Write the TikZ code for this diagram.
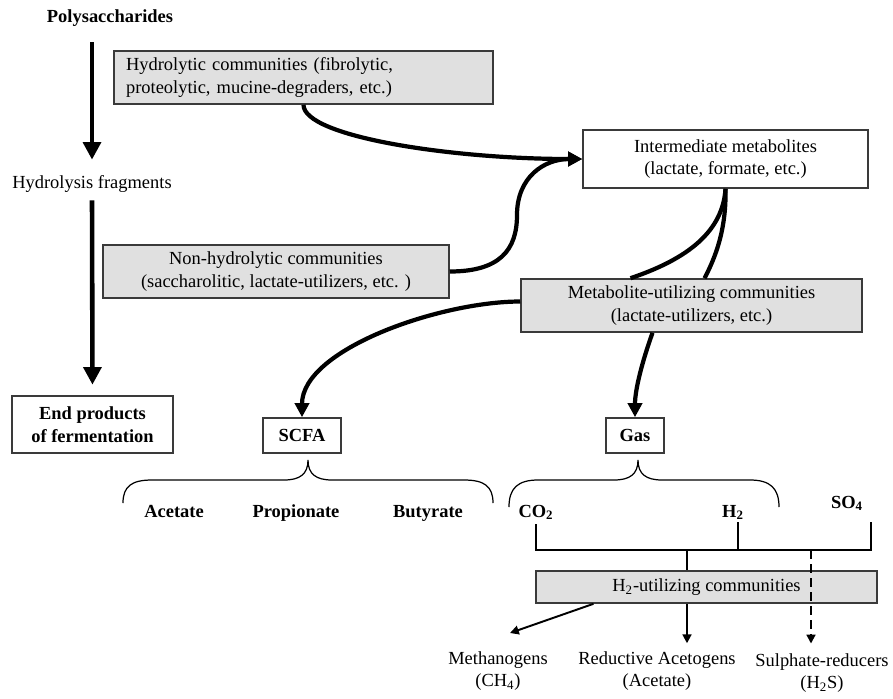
\documentclass[tikz,border=0pt]{standalone}
\usepackage{fontspec}
\setmainfont{Liberation Serif}
\usetikzlibrary{arrows.meta,calc}
\definecolor{fermgray}{HTML}{E0E0E0}
\definecolor{fermedge}{HTML}{3A3A3A}
\newcommand{\fermfont}{\fontsize{10.5}{13}\selectfont}

\begin{document}
\begin{tikzpicture}[x=0.02cm, y=-0.02cm, font=\fermfont,
  commbox/.style={draw=fermedge, line width=0.9pt, fill=fermgray, inner sep=0pt, align=center},
  outbox/.style={draw=fermedge, line width=0.9pt, fill=white, inner sep=0pt, align=center},
  boldlbl/.style={font=\fermfont\bfseries, align=center},
  outlbl/.style={align=center},
  bigflow/.style={line width=2.6pt, -{Triangle[length=10pt,width=10pt]}},
  flow/.style={line width=2.4pt, -{Triangle[length=8pt,width=8pt]}},
  link/.style={line width=2.4pt},
  bus/.style={line width=1.4pt},
  smallflow/.style={line width=1.1pt, -{Triangle[length=5pt,width=5pt]}},
  dashflow/.style={line width=1.1pt, dash pattern=on 5pt off 3pt, -{Triangle[length=5pt,width=5pt]}},
  brace/.style={line width=0.7pt}]
  \useasboundingbox (0,0) rectangle (893,698);
  % left column
  \node[boldlbl] (poly) at (110,18) {Polysaccharides};
  \node (hfrag) at (92,184) {Hydrolysis fragments};
  \node[outbox, boldlbl, minimum width=3.22cm, minimum height=1.14cm] (endp) at (92.5,424.5) {End products\\of fermentation};
  \draw[bigflow, shorten <=5.5pt, shorten >=5.5pt] (poly.south -| hfrag.north) -- (hfrag.north);
  \draw[bigflow, shorten <=1pt, shorten >=6pt] (hfrag.south) -- (endp.north);
  % communities and metabolites
  \node[commbox, align=left, text width=7.1cm, inner xsep=0.24cm, minimum height=1.06cm] (hydro) at (303.5,77.5) {Hydrolytic communities (fibrolytic,\\proteolytic, mucine-degraders, etc.)};
  \node[commbox, minimum width=6.92cm, minimum height=1.06cm] (nonhydro) at (276,271.5) {Non-hydrolytic communities\\(saccharolitic, lactate-utilizers, etc. )};
  \node[outbox, minimum width=5.7cm, minimum height=1.16cm] (inter) at (725.5,159) {Intermediate metabolites\\(lactate, formate, etc.)};
  \node[commbox, minimum width=6.82cm, minimum height=1.06cm] (metab) at (691.5,305.5) {Metabolite-utilizing communities\\(lactate-utilizers, etc.)};
  \node[outbox, boldlbl, minimum width=1.56cm, minimum height=0.7cm] (scfa) at (302,435.5) {SCFA};
  \node[outbox, boldlbl, minimum width=1.16cm, minimum height=0.7cm] (gas) at (635,435.5) {Gas};
  \draw[flow] (hydro.south) .. controls +(0,32) and +(-130,0) .. (inter.west);
  \draw[flow] (nonhydro.east) .. controls +(50,0) and +(0,35) .. (517,215) .. controls +(0,-38) and +(-38,0) .. (inter.west);
  \draw[link] (inter.south) .. controls +(-3,47) and +(50,-17) .. ($(metab.north)+(-61,0)$);
  \draw[link] (inter.south) .. controls +(1,42) and +(10,-19) .. ($(metab.north)+(13,0)$);
  \draw[flow] ($(metab.west)+(0,-4)$) .. controls +(-80,0) and +(0,-68) .. (scfa.north);
  \draw[flow] ($(metab.south)+(-39,0)$) .. controls +(-10,28) and +(0,-28) .. (gas.north);
  % braces
  \draw[brace] (123,503) .. controls (123,486) and (132,480) .. (152,480) -- (284,480) .. controls (300,480) and (308,474) .. (308,460) .. controls (308,474) and (316,480) .. (332,480) -- (464,480) .. controls (484,480) and (493,486) .. (493,503);
  \draw[brace] (509,507) .. controls (509,488) and (518,480) .. (538,480) -- (614,480) .. controls (630,480) and (638,474) .. (638,460) .. controls (638,474) and (646,480) .. (662,480) -- (750,480) .. controls (770,480) and (779,488) .. (779,507);
  \node[boldlbl, anchor=base] (acet) at (174,517) {Acetate};
  \node[boldlbl, anchor=base] (prop) at (296,517) {Propionate};
  \node[boldlbl, anchor=base] (buty) at (428,517) {Butyrate};
  \node[boldlbl, anchor=base] (co2) at (536,517) {CO\textsubscript{2}};
  \node[boldlbl, anchor=base] (h2) at (733,517) {H\textsubscript{2}};
  \node[boldlbl, anchor=base] (so4) at (847,508) {SO\textsubscript{4}};
  % gas bus
  \coordinate (busL) at (536,550);
  \coordinate (busR) at (871,550);
  \coordinate (so4bar) at (871,522);
  \coordinate (co2bar) at ($(co2.south)+(0,-2)$);
  \coordinate (h2bar) at ($(h2.south)+(5,-4)$);
  \coordinate (busA) at (687,550);
  \coordinate (busS) at (811,550);
  \draw[bus] (co2bar) -- (busL) -- (busR) -- (so4bar);
  \draw[bus] (h2bar) -- (h2bar |- busL);
  \node[commbox, minimum width=6.82cm, minimum height=0.64cm] (h2box) at (706.5,587) {H\textsubscript{2}-utilizing communities};
  \draw[bus] (busA) -- (busA |- h2box.north);
  % H2 users
  \node[outlbl] (meth) at (498,671) {Methanogens\\(CH\textsubscript{4})};
  \node[outlbl] (redac) at (657,671) {Reductive Acetogens\\(Acetate)};
  \node[outlbl] (sulph) at (822,673) {Sulphate-reducers\\(H\textsubscript{2}S)};
  \coordinate (methtip) at (510,633);
  \draw[smallflow] ($(h2box.south)+(-113,0)$) -- (methtip);
  \draw[smallflow, shorten >=1pt] (busA |- h2box.south) -- (busA |- redac.north);
  \draw[dashflow, shorten >=2pt] (busS) -- (busS |- sulph.north);
\end{tikzpicture}
\end{document}
